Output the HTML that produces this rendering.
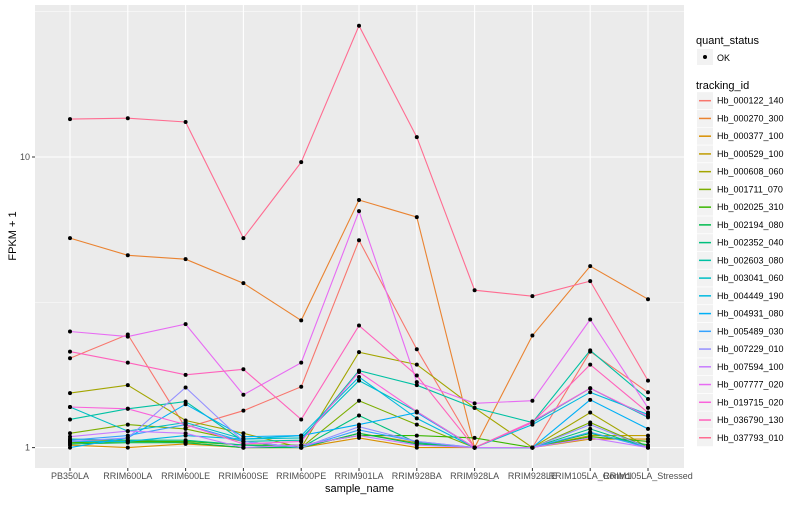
<!DOCTYPE html>
<html><head><meta charset="utf-8"><style>
body{margin:0;background:#fff;font-family:"Liberation Sans",sans-serif}
svg text{font-family:"Liberation Sans",sans-serif}
</style></head><body>
<svg id="chart" width="800" height="500" xmlns="http://www.w3.org/2000/svg"></svg>
<script>
const categories=["PB350LA","RRIM600LA","RRIM600LE","RRIM600SE","RRIM600PE","RRIM901LA","RRIM928BA","RRIM928LA","RRIM928LE","RRIM105LA_Control","RRIM105LA_Stressed"];
const trackingIds=["Hb_000122_140","Hb_000270_300","Hb_000377_100","Hb_000529_100","Hb_000608_060","Hb_001711_070","Hb_002025_310","Hb_002194_080","Hb_002352_040","Hb_002603_080","Hb_003041_060","Hb_004449_190","Hb_004931_080","Hb_005489_030","Hb_007229_010","Hb_007594_100","Hb_007777_020","Hb_019715_020","Hb_036790_130","Hb_037793_010"];
const colors=["#F8766D","#EA8331","#D89000","#C09B00","#A3A500","#7CAE00","#39B600","#00BB4E","#00BF7D","#00C1A3","#00BFC4","#00BAE0","#00B0F6","#35A2FF","#9590FF","#C77CFF","#E76BF3","#FA62DB","#FF62BC","#FF6C91"];
const s00=[2.03,2.45,1.17,1.34,1.62,5.17,2.18,1.0,1.0,2.14,1.55];
const s01=[5.26,4.59,4.45,3.68,2.74,7.11,6.21,1.0,2.43,4.21,3.24];
const s02=[1.02,1.0,1.03,1.0,1.0,1.08,1.0,1.0,1.0,1.07,1.07];
const s03=[1.05,1.06,1.04,1.0,1.0,1.12,1.04,1.0,1.0,1.1,1.1];
const s04=[1.54,1.64,1.24,1.12,1.0,2.13,1.93,1.37,1.0,1.32,1.0];
const s05=[1.12,1.2,1.16,1.05,1.0,1.45,1.2,1.0,1.0,1.22,1.0];
const s06=[1.04,1.05,1.05,1.02,1.02,1.1,1.1,1.08,1.0,1.09,1.05];
const s07=[1.03,1.04,1.04,1.0,1.0,1.12,1.03,1.0,1.0,1.12,1.02];
const s08=[1.07,1.06,1.06,1.02,1.0,1.29,1.04,1.0,1.0,1.16,1.0];
const s09=[1.25,1.36,1.44,1.05,1.06,1.84,1.64,1.37,1.22,2.16,1.47];
const s10=[1.38,1.14,1.22,1.07,1.08,1.70,1.33,1.0,1.22,1.60,1.27];
const s11=[1.05,1.05,1.1,1.07,1.1,1.75,1.26,1.0,1.2,1.55,1.3];
const s12=[1.0,1.08,1.41,1.09,1.1,1.2,1.32,1.0,1.0,1.46,1.16];
const s13=[1.06,1.1,1.2,1.05,1.0,1.15,1.05,1.0,1.0,1.13,1.0];
const s14=[1.05,1.08,1.61,1.05,1.0,1.18,1.05,1.0,1.0,1.2,1.0];
const s15=[1.09,1.14,1.12,1.0,1.02,1.1,1.02,1.0,1.0,1.08,1.0];
const s16=[2.51,2.41,2.66,1.52,1.96,6.51,1.68,1.42,1.45,2.76,1.37];
const s17=[1.38,1.36,1.2,1.03,1.05,1.82,1.33,1.0,1.23,1.60,1.28];
const s18=[2.14,1.96,1.78,1.86,1.25,2.63,1.77,1.0,1.22,1.93,1.32];
const s19=[13.5,13.6,13.2,5.26,9.6,28.3,11.7,3.48,3.32,3.74,1.70];
const series=[s00,s01,s02,s03,s04,s05,s06,s07,s08,s09,s10,s11,s12,s13,s14,s15,s16,s17,s18,s19];
const yTicks=[1,10];
const yTickLabels=["1","10"];
const yMinor=[Math.sqrt(10),Math.sqrt(1000)];

const NS="http://www.w3.org/2000/svg";
const svg=document.getElementById('chart');
const P={l:35,r:684,t:5,b:468};
function xs(i){return 70+i*57.8;}
function ys(v){return 447.6-290.6*Math.log10(v);}
function mk(tag,attrs,parent){const e=document.createElementNS(NS,tag);for(const k in attrs)e.setAttribute(k,attrs[k]);(parent||svg).appendChild(e);return e;}

const panel=mk('rect',{x:P.l,y:P.t,width:P.r-P.l,height:P.b-P.t,fill:'#EBEBEB'});


yMinor.forEach(v=>{const g=mk('line',{x1:P.l,x2:P.r,y1:ys(v),y2:ys(v),stroke:'#fff','stroke-width':0.5});

});
yTicks.forEach((v,i)=>{const g=mk('line',{x1:P.l,x2:P.r,y1:ys(v),y2:ys(v),stroke:'#fff','stroke-width':1.1});


const t=mk('line',{x1:P.l-3,x2:P.l,y1:ys(v),y2:ys(v),stroke:'#333','stroke-width':1});


const l=mk('text',{x:P.l-5,y:ys(v)+3,'text-anchor':'end','font-size':9,fill:'#4D4D4D'});l.textContent=yTickLabels[i];

});
categories.forEach((c,i)=>{const g=mk('line',{x1:xs(i),x2:xs(i),y1:P.t,y2:P.b,stroke:'#fff','stroke-width':1.1});


const t=mk('line',{x1:xs(i),x2:xs(i),y1:P.b,y2:P.b+3,stroke:'#333','stroke-width':1});


const l=mk('text',{x:xs(i),y:479,'text-anchor':'middle','font-size':9,fill:'#4D4D4D'});l.textContent=c;

});
series.forEach((s,k)=>{const pts=s.map((v,i)=>xs(i).toFixed(1)+','+ys(v).toFixed(1)).join(' ');
const pl=mk('polyline',{points:pts,fill:'none',stroke:colors[k],'stroke-width':1.1});

});
series.forEach((s,k)=>{s.forEach((v,i)=>{const c=mk('circle',{cx:xs(i),cy:ys(v),r:2,fill:'#000'});

});});

const xt=mk('text',{x:(P.l+P.r)/2,y:492,'text-anchor':'middle','font-size':11,fill:'#000'});xt.textContent='sample_name';


const yt=mk('text',{x:0,y:0,'text-anchor':'middle','font-size':11,fill:'#000',transform:'translate(16,236) rotate(-90)'});yt.textContent='FPKM + 1';



const lq=mk('text',{x:696,y:44,'font-size':11,fill:'#000'});lq.textContent='quant_status';


mk('rect',{x:697,y:49,width:16,height:16,fill:'#F2F2F2'});
const qd=mk('circle',{cx:705,cy:57,r:2,fill:'#000'});


const qo=mk('text',{x:717,y:61,'font-size':9,fill:'#000'});qo.textContent='OK';


const lt=mk('text',{x:696,y:89,'font-size':11,fill:'#000'});lt.textContent='tracking_id';


trackingIds.forEach((id,k)=>{const cy=100.7+k*17.74;
mk('rect',{x:697,y:cy-8.5,width:16,height:17,fill:'#F2F2F2'});
const ln=mk('line',{x1:699,x2:711,y1:cy,y2:cy,stroke:colors[k],'stroke-width':1.5});


const t=mk('text',{x:717,y:cy+3,'font-size':9,fill:'#000'});t.textContent=id;

});
</script>
</body></html>
